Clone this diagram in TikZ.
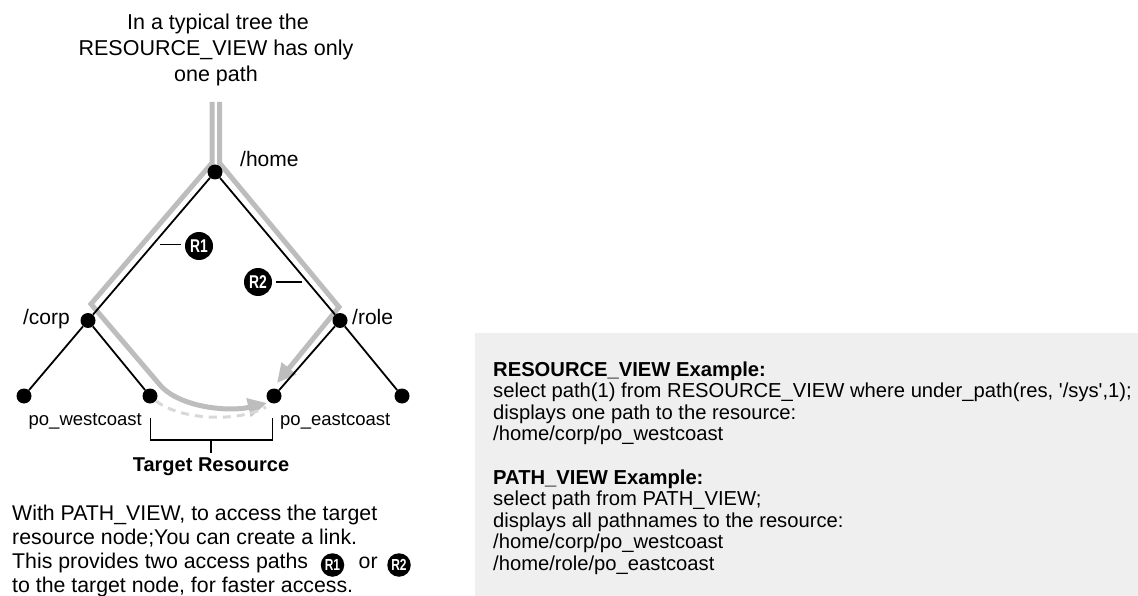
\documentclass[tikz,border=0pt]{standalone}
\usepackage{fontspec}
\usepackage{graphicx}
\setmainfont{Liberation Sans}
\usetikzlibrary{arrows.meta}
\definecolor{pathgray}{HTML}{BDBDBD}
\definecolor{dashgray}{HTML}{D8D8D8}
\definecolor{boxgray}{HTML}{EFEFEF}
\begin{document}
\begin{tikzpicture}[x=1pt,y=-1pt,
  dot/.style={circle,fill=black,minimum size=15pt,inner sep=0pt},
  lbl/.style={inner sep=0pt,font=\fontsize{21}{25}\selectfont},
  slbl/.style={inner sep=0pt,font=\fontsize{18.5}{22}\selectfont},
  ttl/.style={inner sep=0pt,font=\fontsize{21.5}{26}\selectfont},
  btxt/.style={inner sep=0pt,font=\fontsize{21.3}{24}\selectfont},
  ctxt/.style={inner sep=0pt,font=\fontsize{20.2}{21.6}\selectfont},
  tree/.style={line width=1.8pt},
  route/.style={pathgray,line width=5pt},
  thin/.style={line width=1.3pt},
  badge/.style={circle,fill=black,text=white,minimum size=28pt,inner sep=0pt,font=\bfseries\fontsize{18.5}{18.5}\selectfont},
  sbadge/.style={circle,fill=black,text=white,minimum size=23.5pt,inner sep=0pt,font=\bfseries\fontsize{16}{16}\selectfont},
  tip/.style={-{Triangle[length=19pt,width=18pt]}}
]
\useasboundingbox (0,0) rectangle (1138,596);

% grey example box
\fill[boxgray] (475,333) rectangle (1138,596);

% title
\node[ttl,anchor=base] (t1) at (218,29.5) {In a typical tree the};
\node[ttl,anchor=base] (t2) at (216,55.5) {RESOURCE\_VIEW has only};
\node[ttl,anchor=base] (t3) at (216,81.5) {one path};

% grey access routes
\coordinate (gl0) at (212,102);
\coordinate (gl1) at (212,163);
\coordinate (gl2) at (91,304);
\coordinate (gl3) at (160,385);
\coordinate (gl4) at (267,403);
\coordinate (gr0) at (219.5,102);
\coordinate (gr1) at (219.5,163);
\coordinate (gr2) at (339,307);
\coordinate (gr3) at (277,383);
\draw[route,tip] (gl0) -- (gl1) -- (gl2) -- (gl3) .. controls (180,408) and (230,412) .. (gl4);
\draw[route,tip] (gr0) -- (gr1) -- (gr2) -- (gr3);

% tree nodes
\node[dot] (home) at (215,172) {};
\node[dot] (corp) at (88,320.5) {};
\node[dot] (role) at (340,320.5) {};
\node[dot] (la) at (24,396) {};
\node[dot] (pw) at (150,396) {};
\node[dot] (pe) at (274,396) {};
\node[dot] (ld) at (402,396) {};

\draw[tree] (home) -- (corp);
\draw[tree] (home) -- (role);
\draw[tree] (corp) -- (la);
\draw[tree] (corp) -- (pw);
\draw[tree] (role) -- (pe);
\draw[tree] (role) -- (ld);

% dashed link
\coordinate (dse) at (266,407);
\draw[dashgray,line width=3pt,dash pattern=on 8pt off 6pt] (pw.-40) .. controls (182,421) and (240,422) .. (dse);

% labels
\node[lbl,anchor=base west] (lhome) at (240,167) {/home};
\node[lbl,anchor=base east] (lcorp) at (70,324) {/corp};
\node[lbl,anchor=base west] (lrole) at (352,324) {/role};
\node[slbl,anchor=base east] (lpw) at (142,425) {po\_westcoast};
\node[slbl,anchor=base west] (lpe) at (280,425) {po\_eastcoast};

% badges
\node[badge] (r1) at (199,246) {\scalebox{0.75}[1]{R1}};
\coordinate (r1e) at (160,244.5);
\draw[thin,shorten >=4pt] (r1e) -- (r1.west |- r1e);
\node[badge] (r2) at (258,282) {\scalebox{0.75}[1]{R2}};
\coordinate (r2e) at (302,282);
\draw[thin,shorten >=4pt] (r2e) -- (r2.east |- r2e);

% target bracket
\coordinate (bl) at (150.7,418);
\coordinate (br) at (272.7,418);
\coordinate (bm) at (211,440);
\draw[thin] (bl) -- (150.7,440) -| (br);
\node[inner sep=0pt,font=\bfseries\fontsize{20}{24}\selectfont,anchor=base] (target) at (211,471.5) {Target Resource};
\draw[thin] (bm) -- (211,453);

% bottom note
\node[btxt,anchor=base west] (n1) at (12,520) {With PATH\_VIEW, to access the target};
\node[btxt,anchor=base west] (n2) at (12,544) {resource node;You can create a link.};
\node[btxt,anchor=base west] (n3) at (12,568) {This provides two access paths};
\node[sbadge] (n3r1) at (332.5,565) {\scalebox{0.75}[1]{R1}};
\node[btxt,anchor=base west] (n3or) at (358.5,568) {or};
\node[sbadge] (n3r2) at (399,565) {\scalebox{0.75}[1]{R2}};
\node[btxt,anchor=base west] (n4) at (12,592) {to the target node, for faster access.};

% example text
\node[ctxt,anchor=base west,font=\bfseries\fontsize{20.2}{21.6}\selectfont] (e1) at (493,376) {RESOURCE\_VIEW Example:};
\node[ctxt,anchor=base west] (e2) at (493,397.6) {select path(1) from RESOURCE\_VIEW where under\_path(res, \textquotesingle/sys\textquotesingle,1);};
\node[ctxt,anchor=base west] (e3) at (493,419.2) {displays one path to the resource:};
\node[ctxt,anchor=base west] (e4) at (493,440.8) {/home/corp/po\_westcoast};
\node[ctxt,anchor=base west,font=\bfseries\fontsize{20.2}{21.6}\selectfont] (p1) at (493,484) {PATH\_VIEW Example:};
\node[ctxt,anchor=base west] (p2) at (493,505.6) {select path from PATH\_VIEW;};
\node[ctxt,anchor=base west] (p3) at (493,527.2) {displays all pathnames to the resource:};
\node[ctxt,anchor=base west] (p4) at (493,548.8) {/home/corp/po\_westcoast};
\node[ctxt,anchor=base west] (p5) at (493,570.4) {/home/role/po\_eastcoast};
\end{tikzpicture}
\end{document}
